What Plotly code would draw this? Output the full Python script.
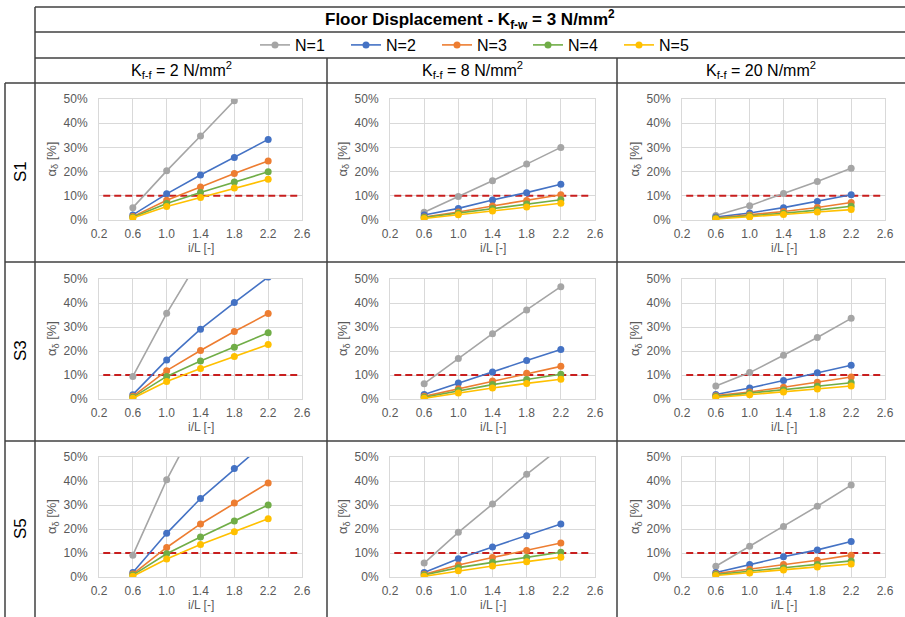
import plotly.graph_objects as go

# ---------------- data ----------------
il_values = [0.6, 1.0, 1.4, 1.8, 2.2]
series_names = ["N=1", "N=2", "N=3", "N=4", "N=5"]
series_colors = ["#A5A5A5", "#4472C4", "#ED7D31", "#70AD47", "#FFC000"]
row_labels = ["S1", "S3", "S5"]
col_kff = ["2", "8", "20"]
threshold_x = [0.25, 2.55]
threshold_y = [10, 10]
x_ticks = [0.2, 0.6, 1.0, 1.4, 1.8, 2.2, 2.6]
x_tick_labels = ["0.2", "0.6", "1.0", "1.4", "1.8", "2.2", "2.6"]
y_ticks = [0, 10, 20, 30, 40, 50]
y_tick_labels = ["0%", "10%", "20%", "30%", "40%", "50%"]

# alpha_delta [%] per panel, rows = N=1..N=5
S1_K2 = [[5.1, 20.3, 34.7, 49.3, 64.0],
         [2.1, 10.8, 18.6, 25.8, 33.3],
         [1.4, 8.2, 13.6, 19.2, 24.4],
         [1.1, 6.8, 11.4, 15.7, 19.9],
         [0.8, 5.6, 9.3, 13.2, 16.8]]
S1_K8 = [[3.2, 9.7, 16.2, 23.1, 30.0],
         [2.1, 4.8, 8.3, 11.3, 14.8],
         [1.2, 3.3, 5.8, 8.1, 10.4],
         [1.0, 2.8, 4.8, 6.6, 8.4],
         [0.6, 2.2, 3.7, 5.4, 6.9]]
S1_K20 = [[1.9, 5.9, 11.0, 15.9, 21.4],
          [1.2, 2.9, 5.1, 7.6, 10.4],
          [0.8, 2.1, 3.5, 5.2, 7.2],
          [0.7, 1.7, 2.8, 4.1, 5.7],
          [0.4, 1.2, 2.3, 3.3, 4.3]]
S3_K2 = [[9.4, 35.7, 59.0, 82.0, 105.0],
         [1.8, 16.3, 29.1, 40.2, 50.8],
         [1.1, 11.8, 20.2, 28.1, 35.6],
         [0.7, 9.4, 15.8, 21.6, 27.6],
         [0.3, 7.3, 12.7, 17.7, 22.7]]
S3_K8 = [[6.4, 16.9, 27.2, 37.1, 46.8],
         [1.9, 6.7, 11.3, 16.0, 20.6],
         [1.1, 4.3, 7.5, 10.7, 13.6],
         [0.7, 3.5, 6.0, 8.1, 10.3],
         [0.3, 2.5, 4.6, 6.5, 8.2]]
S3_K20 = [[5.4, 11.0, 18.2, 25.6, 33.6],
          [1.9, 4.6, 7.7, 10.9, 14.1],
          [1.4, 2.9, 4.9, 7.0, 9.2],
          [1.0, 2.4, 3.8, 5.3, 6.8],
          [0.6, 1.8, 2.9, 4.2, 5.4]]
S5_K2 = [[9.1, 40.5, 67.0, 94.0, 120.0],
         [1.9, 18.2, 32.7, 45.2, 57.0],
         [1.2, 12.3, 22.1, 30.8, 39.2],
         [0.8, 9.7, 16.7, 23.3, 30.0],
         [0.3, 7.5, 13.5, 18.9, 24.3]]
S5_K8 = [[5.8, 18.6, 30.4, 42.8, 54.0],
         [1.9, 7.6, 12.5, 17.2, 22.1],
         [1.1, 5.0, 8.1, 11.0, 14.2],
         [0.8, 3.9, 6.1, 8.1, 10.3],
         [0.3, 2.6, 4.6, 6.4, 8.2]]
S5_K20 = [[4.5, 12.8, 21.0, 29.5, 38.3],
          [1.9, 5.2, 8.4, 11.3, 14.8],
          [1.4, 3.2, 5.2, 7.0, 9.1],
          [1.0, 2.4, 3.8, 5.2, 6.7],
          [0.6, 1.7, 2.9, 4.2, 5.4]]

panels = [[S1_K2, S1_K8, S1_K20],
          [S3_K2, S3_K8, S3_K20],
          [S5_K2, S5_K8, S5_K20]]

# ---------------- layout geometry (pixels) ----------------
W, H = 905, 617
FONT = "Liberation Sans, Arial, sans-serif"
col_px = [(99, 302), (390, 595), (682, 885)]
row_px = [(99, 220), (279, 399), (457, 577)]


def px_x(p):
    return p / W


def px_y(p):
    return 1 - p / H


fig = go.Figure()
layout_axes = {}
annotations = []

for r in range(3):
    for c in range(3):
        k = r * 3 + c + 1
        xa = "x" if k == 1 else f"x{k}"
        ya = "y" if k == 1 else f"y{k}"
        data = panels[r][c]
        # threshold line
        fig.add_trace(go.Scatter(
            x=threshold_x, y=threshold_y, mode="lines",
            line=dict(color="#C81E1E", width=2, dash="7px,4px"),
            showlegend=False, hoverinfo="skip", xaxis=xa, yaxis=ya))
        for n in range(5):
            fig.add_trace(go.Scatter(
                x=il_values, y=data[n], mode="lines+markers",
                name=series_names[n],
                line=dict(color=series_colors[n], width=1.6),
                marker=dict(color=series_colors[n], size=7),
                showlegend=(k == 1), legendgroup=series_names[n],
                xaxis=xa, yaxis=ya))
        x0, x1 = col_px[c]
        y0, y1 = row_px[r]
        axis_common = dict(
            showgrid=True, gridcolor="#D9D9D9", gridwidth=1,
            showline=True, linecolor="#D9D9D9", linewidth=1, mirror=True,
            zeroline=False, ticks="outside", tickcolor="rgba(0,0,0,0)",
            tickfont=dict(family=FONT, size=12, color="#595959"),
            tickmode="array", fixedrange=True)
        layout_axes["xaxis" if k == 1 else f"xaxis{k}"] = dict(
            domain=[px_x(x0), px_x(x1)], anchor=ya, range=[0.2, 2.6],
            tickvals=x_ticks, ticktext=x_tick_labels, ticklen=3,
            **axis_common)
        layout_axes["yaxis" if k == 1 else f"yaxis{k}"] = dict(
            domain=[px_y(y1), px_y(y0)], anchor=xa, range=[0, 50],
            tickvals=y_ticks, ticktext=y_tick_labels, ticklen=8,
            **axis_common)
        # axis titles
        annotations.append(dict(
            text="i/L [-]", x=px_x((x0 + x1) / 2), y=px_y(y1 + 28),
            xref="paper", yref="paper", showarrow=False,
            xanchor="center", yanchor="middle",
            font=dict(family=FONT, size=12, color="#595959")))
        annotations.append(dict(
            text="α<sub>δ</sub> [%]", x=px_x(x0 - 47), y=px_y((y0 + y1) / 2),
            xref="paper", yref="paper", showarrow=False, textangle=-90,
            xanchor="center", yanchor="middle",
            font=dict(family=FONT, size=13, color="#595959")))

# table texts
annotations.append(dict(
    text="<b>Floor Displacement - K<sub>f-w</sub> = 3 N/mm<sup>2</sup></b>",
    x=px_x(470), y=px_y(19), xref="paper", yref="paper", showarrow=False,
    xanchor="center", yanchor="middle",
    font=dict(family=FONT, size=17, color="#000000")))
col_centers = [181, 472, 761]
for c in range(3):
    annotations.append(dict(
        text=f"K<sub>f-f</sub> = {col_kff[c]} N/mm<sup>2</sup>",
        x=px_x(col_centers[c]), y=px_y(70), xref="paper", yref="paper",
        showarrow=False, xanchor="center", yanchor="middle",
        font=dict(family=FONT, size=16, color="#000000")))
row_centers = [172, 351, 529]
for r in range(3):
    annotations.append(dict(
        text=row_labels[r], x=px_x(20), y=px_y(row_centers[r]),
        xref="paper", yref="paper", showarrow=False, textangle=-90,
        xanchor="center", yanchor="middle",
        font=dict(family=FONT, size=17, color="#000000")))

# table grid lines
LC = "#404040"
LW = 1.5
segments = [
    (35, 7, 905, 7), (35, 32, 905, 32), (35, 58, 905, 58),
    (5, 83, 905, 83), (5, 262, 905, 262), (5, 441, 905, 441),
    (5, 83, 5, 617), (35, 7, 35, 617),
    (327, 58, 327, 617), (617, 58, 617, 617),
]
shapes = [dict(type="line", xref="paper", yref="paper",
               x0=px_x(a), y0=px_y(b), x1=px_x(cx), y1=px_y(d),
               line=dict(color=LC, width=LW), layer="above")
          for (a, b, cx, d) in segments]

fig.update_layout(
    width=W, height=H,
    margin=dict(l=0, r=0, t=0, b=0, pad=0, autoexpand=False),
    paper_bgcolor="white", plot_bgcolor="white",
    font=dict(family=FONT, color="#000000"),
    showlegend=True,
    legend=dict(orientation="h", x=px_x(255), y=px_y(45),
                xanchor="left", yanchor="middle",
                entrywidth=46, entrywidthmode="pixels",
                font=dict(family=FONT, size=16, color="#000000"),
                bgcolor="rgba(0,0,0,0)", itemclick=False, itemdoubleclick=False),
    annotations=annotations, shapes=shapes,
    **layout_axes)

fig.write_html("out.html",
               config={"displayModeBar": False, "staticPlot": True},
               post_script="document.body.style.margin='0';"
                           "document.body.style.overflow='hidden';")
